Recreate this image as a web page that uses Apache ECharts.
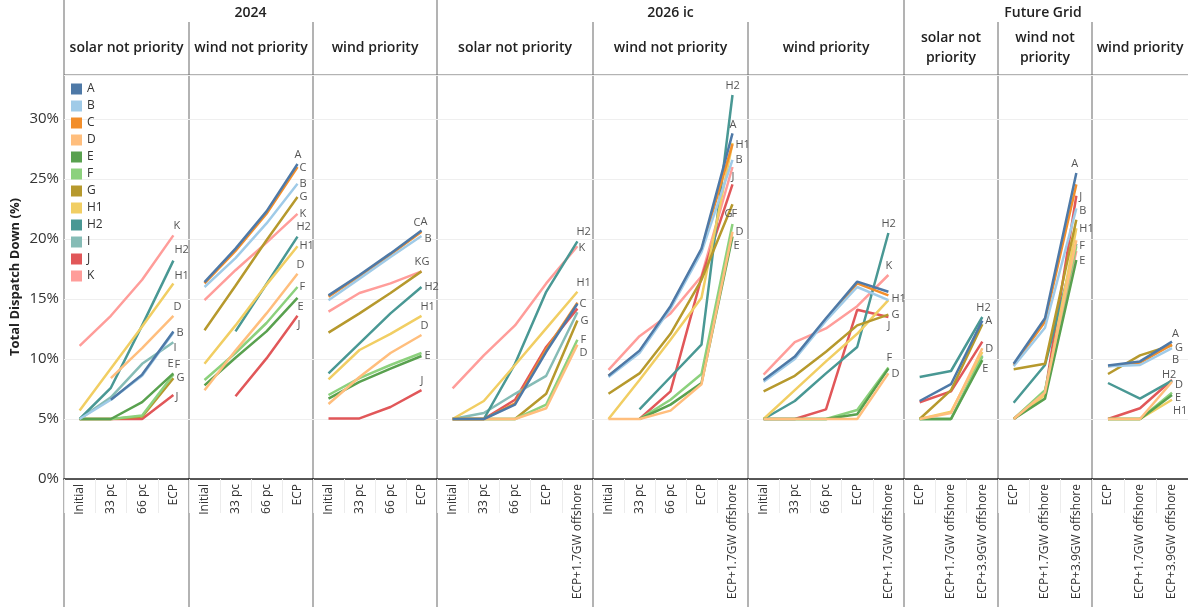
<!DOCTYPE html>
<html>
<head>
<meta charset="utf-8">
<script src="https://cdn.jsdelivr.net/npm/echarts@6/dist/echarts.min.js"></script>
<style>
html,body{margin:0;padding:0;background:#fff;}
#chart{width:1188px;height:607px;}
</style>
</head>
<body>
<div id="chart"></div>
<script>
// ---------- DATA ----------
const seriesNames = ['A','B','C','D','E','F','G','H1','H2','I','J','K'];
const seriesColors = ['#4E79A7','#A0CBE8','#F28E2B','#FFBE7D','#59A14F','#8CD17D','#B6992D','#F1CE63','#499894','#86BCB6','#E15759','#FF9D9A'];

const cats2024 = ['Initial','33 pc','66 pc','ECP'];
const cats2026 = ['Initial','33 pc','66 pc','ECP','ECP+1.7GW offshore'];
const catsFuture = ['ECP','ECP+1.7GW offshore','ECP+3.9GW offshore'];

const groupTitles = ['2024','2026 ic','Future Grid'];
const panelTitles = ['solar not priority','wind not priority','wind priority',
                     'solar not priority','wind not priority','wind priority',
                     'solar not\npriority','wind not\npriority','wind priority'];

// values in % (Total Dispatch Down)
const v2024Solar = {
  A: [null, 6.6, 8.7, 12.3],
  B: [5.0, 6.6, 8.6, 12.2],
  D: [null, 8.4, 10.9, 13.6],
  E: [5.0, 5.0, 6.4, 8.8],
  F: [5.0, 5.0, 5.3, 8.7],
  G: [5.0, 5.0, 5.2, 8.4],
  H1: [5.7, 9.2, 12.7, 16.3],
  H2: [5.0, 7.6, 12.8, 18.2],
  I: [5.0, 6.8, 9.6, 11.4],
  J: [5.0, 5.0, 5.0, 7.0],
  K: [11.1, 13.6, 16.6, 20.3]
};
const v2024Wind = {
  A: [16.4, 19.2, 22.3, 26.25],
  B: [16.0, 18.4, 21.3, 24.6],
  C: [16.3, 19.0, 22.1, 26.0],
  D: [7.4, 10.7, 13.8, 17.1],
  E: [7.8, 10.1, 12.3, 15.1],
  F: [8.25, 10.5, 13.0, 16.0],
  G: [12.4, 16.1, 19.9, 23.5],
  H1: [9.6, 12.8, 16.2, 19.4],
  H2: [null, 12.3, 16.25, 20.2],
  J: [null, 6.9, 10.05, 13.6],
  K: [14.9, 17.4, 19.7, 22.1]
};
const v2024WindP = {
  A: [15.3, 17.0, 18.8, 20.7],
  B: [14.9, 16.7, 18.5, 20.25],
  C: [15.2, 16.9, 18.7, 20.6],
  D: [6.25, 8.5, 10.5, 12.0],
  E: [6.7, 8.1, 9.2, 10.25],
  F: [7.0, 8.4, 9.5, 10.5],
  G: [12.2, 13.8, 15.5, 17.3],
  H1: [8.3, 10.75, 12.1, 13.6],
  H2: [8.8, 11.3, 13.8, 16.0],
  J: [5.05, 5.05, 6.0, 7.4],
  K: [13.95, 15.5, 16.3, 17.3]
};
const v2026Solar = {
  A: [5.0, 5.0, 6.2, 10.6, 14.6],
  C: [5.0, 5.0, 6.3, 10.8, 14.7],
  D: [5.0, 5.0, 5.0, 5.9, 11.2],
  F: [5.0, 5.0, 5.0, 6.2, 11.6],
  G: [5.0, 5.0, 5.0, 7.1, 13.2],
  H1: [5.0, 6.5, 9.5, 12.55, 15.6],
  H2: [5.0, 5.0, 9.6, 15.6, 19.8],
  I: [5.0, 5.5, 7.1, 8.6, 13.9],
  J: [5.0, 5.0, 6.6, 11.0, 14.2],
  K: [7.55, 10.3, 12.8, 16.3, 19.4]
};
const v2026Wind = {
  A: [8.6, 10.7, 14.4, 19.2, 28.8],
  B: [8.5, 10.5, 14.2, 18.9, 26.6],
  C: [8.6, 10.6, 14.3, 19.1, 27.9],
  D: [5.0, 5.0, 5.7, 7.9, 20.6],
  E: [null, 5.0, 6.2, 8.0, 20.2],
  F: [null, 5.0, 6.6, 8.75, 21.25],
  G: [7.1, 8.8, 12.1, 16.6, 22.9],
  H1: [5.0, 8.25, 11.6, 15.1, 28.0],
  H2: [null, 5.8, 8.5, 11.2, 32.0],
  J: [null, 5.0, 7.3, 16.8, 24.55],
  K: [9.1, 11.9, 13.8, 16.9, 26.0]
};
const v2026WindP = {
  A: [8.25, 10.2, 13.4, 16.45, 15.6],
  B: [8.1, 10.0, 13.2, 16.0, 14.9],
  C: [8.2, 10.1, 13.3, 16.3, 15.3],
  D: [5.0, 5.0, 5.0, 5.0, 8.8],
  E: [5.0, 5.0, 5.0, 5.4, 9.2],
  F: [5.0, 5.0, 5.0, 5.75, 9.3],
  G: [7.3, 8.6, 10.6, 12.8, 13.7],
  H1: [5.0, 7.4, 9.8, 12.1, 14.9],
  H2: [5.0, 6.5, 8.8, 11.0, 20.5],
  J: [5.0, 5.0, 5.8, 14.1, 13.5],
  K: [8.7, 11.4, 12.55, 14.4, 17.0]
};
const vFutureSolar = {
  A: [6.5, 7.9, 13.2],
  D: [5.0, 5.5, 10.9],
  E: [5.0, 5.0, 9.9],
  F: [5.0, 5.0, 10.2],
  G: [5.0, 7.4, 12.9],
  H1: [5.0, 5.6, 10.6],
  H2: [8.5, 9.0, 13.5],
  I: [5.0, 5.0, 10.3],
  J: [6.4, 7.3, 11.45]
};
const vFutureWind = {
  A: [9.6, 13.4, 25.5],
  B: [9.4, 12.6, 22.55],
  C: [9.5, 13.1, 24.55],
  D: [5.0, 7.2, 19.9],
  E: [5.0, 6.7, 18.25],
  F: [5.0, 7.4, 19.4],
  G: [9.15, 9.6, 21.6],
  H1: [5.0, 7.0, 20.9],
  H2: [6.35, 9.5, 19.6],
  J: [5.0, 7.1, 23.6],
  K: [5.0, 7.3, 19.0]
};
const vFutureWindP = {
  A: [9.45, 9.8, 11.45],
  B: [9.4, 9.5, 10.9],
  C: [9.4, 9.7, 11.2],
  D: [5.0, 5.0, 8.1],
  E: [5.0, 5.0, 7.0],
  F: [5.0, 5.0, 7.2],
  G: [8.75, 10.3, 11.15],
  H1: [5.0, 5.0, 6.6],
  H2: [8.0, 6.7, 8.2],
  J: [5.0, 5.9, 8.25]
};

const panelValues = [v2024Solar, v2024Wind, v2024WindP, v2026Solar, v2026Wind, v2026WindP, vFutureSolar, vFutureWind, vFutureWindP];
const panelCats = [cats2024, cats2024, cats2024, cats2026, cats2026, cats2026, catsFuture, catsFuture, catsFuture];

// ---------- LAYOUT / STYLE (not data) ----------
const panelEdges = [64, 189, 313, 437, 593, 748, 904, 998, 1092, 1188];
const plotTop = 75, plotBottom = 479, chartH = 607;
const yMax = (plotBottom - plotTop) / 12; // 12 px per 1%
// end-label offsets [dx, dy] per panel (which labels are shown)
const endLabelLayout = [
  {K:[-3,-10], H2:[-2,-11], H1:[-2,-8], D:[-3,-9], B:[0,0], I:[-3,6], E:[-9,-10], F:[-2,-10], G:[0,0], J:[-1,2]},
  {A:[-6,-9], C:[-1,1], B:[-1,0], G:[-1,0], K:[-1,0], H2:[-4,-10], H1:[-1,0], D:[-4,-9], F:[-1,0], E:[-3,9], J:[-3,9]},
  {C:[-11,-9], A:[-4,-9], B:[0,3], K:[-10,-10], G:[-3,-10], H2:[0,0], H1:[-4,-9], D:[-4,-9], E:[0,0], J:[-4,-9]},
  {H2:[-4,-10], K:[-2,2], H1:[-4,-9], C:[-1,1], G:[0,0], F:[0,0], D:[-1,8]},
  {H2:[-10,-9], A:[-6,-9], H1:[0,2], B:[0,0], J:[-4,-8], G:[-11,10], F:[-4,-10], D:[0,0], E:[-2,9]},
  {H2:[-10,-9], K:[-6,-9], H1:[0,-1], G:[0,0], J:[-4,9], F:[-5,-10], D:[0,0]},
  {H2:[-9,-9], A:[0,0], D:[0,1], E:[-3,9]},
  {A:[-8,-9], J:[0,1], B:[0,2], H1:[0,1], F:[0,0], E:[0,1]},
  {A:[-3,-8], G:[0,3], B:[-3,12], H2:[-13,-6], D:[0,3], E:[0,3], H1:[-2,11]}
];

const FONT = '"Open Sans", "Noto Sans", sans-serif';

const grids = [], xAxes = [], yAxes = [], series = [];
for (let p = 0; p < 9; p++) {
  const left = panelEdges[p], width = panelEdges[p+1] - panelEdges[p];
  grids.push({left: left, width: width, top: plotTop, bottom: chartH - plotBottom, containLabel: false});
  xAxes.push({
    type: 'category', gridIndex: p, data: panelCats[p], boundaryGap: true,
    axisLine: {show: true, lineStyle: {color: '#222', width: 1.6}},
    axisTick: {show: true, length: 34, lineStyle: {color: '#ececec'}},
    axisLabel: {rotate: 90, interval: 0, fontSize: 12, color: '#333', margin: 5, fontFamily: FONT}
  });
  yAxes.push({
    type: 'value', gridIndex: p, min: 0, max: yMax, interval: 5,
    axisLine: {show: false}, axisTick: {show: false},
    splitLine: {show: true, lineStyle: {color: '#efefef', width: 1}},
    axisLabel: {show: p === 0, fontSize: 15, color: '#333', margin: 5, fontFamily: FONT,
      formatter: v => (Math.abs(v - Math.round(v/5)*5) < 1e-6 ? Math.round(v) + '%' : '')},
    name: p === 0 ? 'Total Dispatch Down (%)' : '',
    nameLocation: 'middle', nameGap: 42, nameRotate: 90,
    nameTextStyle: {fontSize: 13, fontWeight: 'bold', color: '#222', fontFamily: FONT}
  });
  const vals = panelValues[p];
  // draw in reverse so that A ends on top
  for (let k = seriesNames.length - 1; k >= 0; k--) {
    const n = seriesNames[k];
    if (!vals[n]) continue;
    const lab = endLabelLayout[p][n];
    series.push({
      type: 'line', name: n, xAxisIndex: p, yAxisIndex: p,
      data: vals[n], connectNulls: false,
      symbol: 'none', smooth: false,
      lineStyle: {color: seriesColors[k], width: 2.5},
      itemStyle: {color: seriesColors[k]},
      emphasis: {disabled: true},
      endLabel: lab ? {show: true, formatter: n, distance: 3, offset: lab, color: '#555',
                       fontSize: 11, fontFamily: FONT} : {show: false}
    });
  }
}

// headers and borders
const graphics = [];
const groupCenters = [(64+437)/2, (437+904)/2, (904+1188)/2 - 3];
groupTitles.forEach((t, i) => graphics.push({type: 'text', silent: true,
  style: {text: t, x: groupCenters[i], y: 13, align: 'center', verticalAlign: 'middle',
          font: '600 14px ' + FONT, fill: '#222'}}));
panelTitles.forEach((t, i) => {
  const cx = (panelEdges[i] + panelEdges[i+1]) / 2;
  graphics.push({type: 'text', silent: true,
    style: {text: t, x: cx, y: 48, align: 'center', verticalAlign: 'middle', lineHeight: 20,
            font: '600 14px ' + FONT, fill: '#222'}});
});
[64, 437, 904].forEach(x => graphics.push({type: 'line', silent: true,
  shape: {x1: x, y1: 0, x2: x, y2: chartH}, style: {stroke: '#9a9a9a', lineWidth: 1.5}}));
[189, 313, 593, 748, 998, 1092].forEach(x => graphics.push({type: 'line', silent: true,
  shape: {x1: x, y1: 22, x2: x, y2: chartH}, style: {stroke: '#9a9a9a', lineWidth: 1.5}}));
graphics.push({type: 'line', silent: true, shape: {x1: 64, y1: plotTop, x2: 1188, y2: plotTop},
  style: {stroke: '#666', lineWidth: 1}});

const chart = echarts.init(document.getElementById('chart'), null, {renderer: 'canvas'});
chart.setOption({
  animation: false,
  backgroundColor: '#fff',
  textStyle: {fontFamily: FONT},
  legend: {
    orient: 'vertical', left: 71, top: 83, padding: 0,
    itemWidth: 11, itemHeight: 11, itemGap: 5,
    icon: 'rect', selectedMode: false,
    data: seriesNames,
    textStyle: {fontSize: 12, color: '#333', fontFamily: FONT}
  },
  grid: grids, xAxis: xAxes, yAxis: yAxes, series: series,
  graphic: graphics
});
</script>
</body>
</html>
